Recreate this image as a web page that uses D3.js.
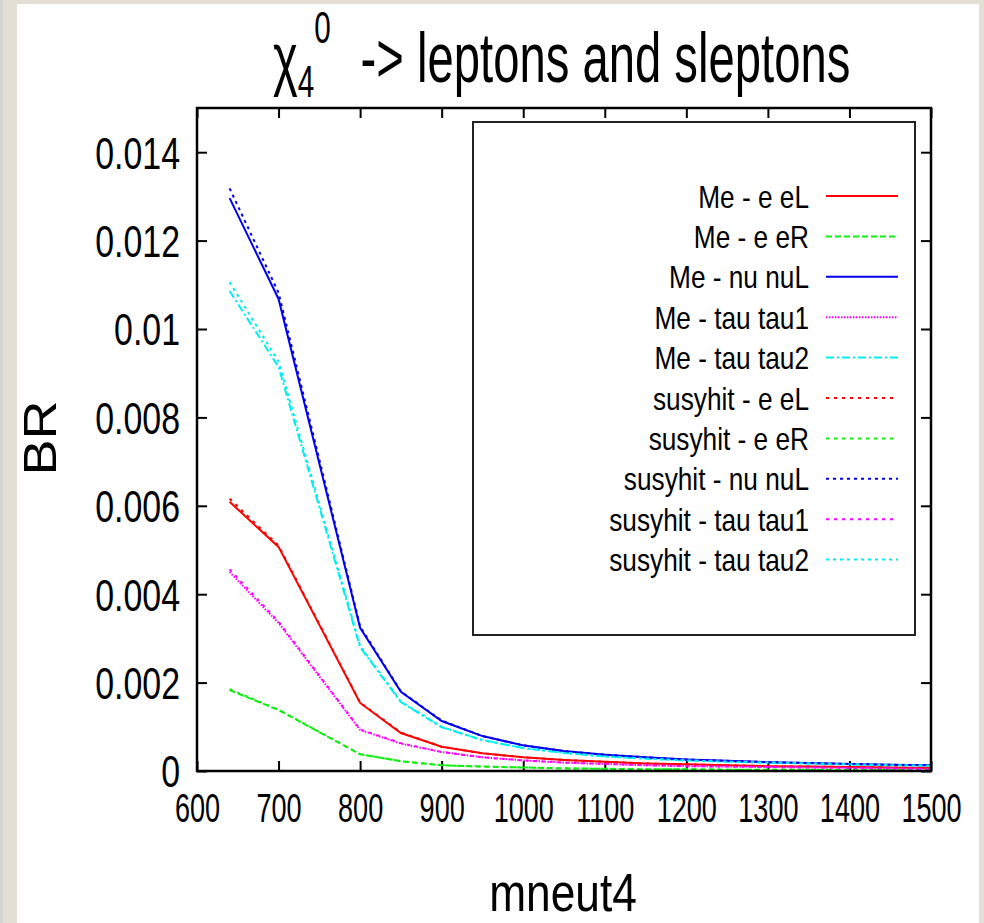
<!DOCTYPE html>
<html>
<head>
<meta charset="utf-8">
<script src="https://cdnjs.cloudflare.com/ajax/libs/d3/7.8.5/d3.min.js"></script>
<style>
  body { margin: 0; background: #e4dfd5; }
  svg { display: block; }
  text { font-family: "Liberation Sans", Arial, sans-serif; fill: #000; }
</style>
</head>
<body>
<svg id="chart" width="984" height="923"></svg>
<script>
// x values (mneut4)
const mneut4 = [640, 700, 800, 850, 900, 950, 1000, 1050, 1100, 1150, 1200, 1250, 1300, 1350, 1400, 1450, 1500];

// branching ratios
const meEeL    = [0.00609, 0.00507, 0.00154, 0.00086, 0.00055, 0.00040, 0.00031, 0.00025, 0.00021, 0.00017, 0.00015, 0.00013, 0.00011, 0.00010, 0.00009, 0.00008, 0.00007];
const meEeR    = [0.00183, 0.00138, 0.00038, 0.00022, 0.00013, 0.00010, 0.00008, 0.00006, 0.00005, 0.00004, 0.00004, 0.00003, 0.00003, 0.00003, 0.00002, 0.00002, 0.00002];
const meNuNuL  = [0.01296, 0.01068, 0.00324, 0.00179, 0.00113, 0.00079, 0.00058, 0.00045, 0.00037, 0.00031, 0.00026, 0.00023, 0.00020, 0.00018, 0.00016, 0.00014, 0.00013];
const meTau1   = [0.00450, 0.00335, 0.00093, 0.00062, 0.00043, 0.00031, 0.00024, 0.00019, 0.00016, 0.00013, 0.00011, 0.00010, 0.00009, 0.00008, 0.00007, 0.00006, 0.00005];
const meTau2   = [0.01086, 0.00914, 0.00280, 0.00156, 0.00099, 0.00070, 0.00052, 0.00041, 0.00033, 0.00028, 0.00024, 0.00021, 0.00019, 0.00017, 0.00015, 0.00013, 0.00012];
const shEeL    = [0.00616, 0.00510, 0.00155, 0.00087, 0.00055, 0.00040, 0.00031, 0.00025, 0.00021, 0.00017, 0.00015, 0.00013, 0.00011, 0.00010, 0.00009, 0.00008, 0.00007];
const shEeR    = [0.00185, 0.00139, 0.00038, 0.00022, 0.00013, 0.00010, 0.00008, 0.00006, 0.00005, 0.00004, 0.00004, 0.00003, 0.00003, 0.00003, 0.00002, 0.00002, 0.00002];
const shNuNuL  = [0.01318, 0.01082, 0.00327, 0.00180, 0.00114, 0.00079, 0.00058, 0.00045, 0.00037, 0.00031, 0.00026, 0.00023, 0.00020, 0.00018, 0.00016, 0.00014, 0.00013];
const shTau1   = [0.00456, 0.00338, 0.00094, 0.00063, 0.00043, 0.00031, 0.00024, 0.00019, 0.00016, 0.00013, 0.00011, 0.00010, 0.00009, 0.00008, 0.00007, 0.00006, 0.00005];
const shTau2   = [0.01106, 0.00926, 0.00283, 0.00157, 0.00100, 0.00070, 0.00052, 0.00041, 0.00033, 0.00028, 0.00024, 0.00021, 0.00019, 0.00017, 0.00015, 0.00013, 0.00012];

const seriesNames = ["Me - e eL", "Me - e eR", "Me - nu nuL", "Me - tau tau1", "Me - tau tau2",
                     "susyhit - e eL", "susyhit - e eR", "susyhit - nu nuL", "susyhit - tau tau1", "susyhit - tau tau2"];
const seriesValues = [meEeL, meEeR, meNuNuL, meTau1, meTau2, shEeL, shEeR, shNuNuL, shTau1, shTau2];
const seriesColors = ["#ff0000", "#11ee11", "#0000ee", "#ff00ff", "#00eeee",
                      "#ff0000", "#11ee11", "#0000ee", "#ff00ff", "#00eeee"];
const seriesDash = [null, "6,3", null, "1.5,1.5", "8,3,2,3",
                    "3,5", "3,5", "3,4", "3,5", "3,4"];

const xTicks = [600, 700, 800, 900, 1000, 1100, 1200, 1300, 1400, 1500];
const yTicks = [0, 0.002, 0.004, 0.006, 0.008, 0.01, 0.012, 0.014];
const yTickLabels = ["0", "0.002", "0.004", "0.006", "0.008", "0.01", "0.012", "0.014"];

const svg = d3.select("#chart");
const W = 984, H = 923;

// page background: grey strip, beige frame, white sheet
svg.append("rect").attr("width", W).attr("height", H).attr("fill", "#e4dfd5");
svg.append("rect").attr("width", 3).attr("height", H).attr("fill", "#d6d6d6");
svg.append("rect").attr("x", 17).attr("y", 4).attr("width", 962).attr("height", H - 4).attr("fill", "#fff");

const plotL = 197, plotR = 931, plotT = 108, plotB = 771;
const x = d3.scaleLinear().domain([600, 1500]).range([plotL, plotR]);
const y = d3.scaleLinear().domain([0, 0.015]).range([plotB, plotT]);

// ticks, mirrored on all four sides, pointing inward
function styleTicks(g) {
  g.select(".domain").remove();
  g.selectAll(".tick line").attr("stroke", "#000").attr("stroke-width", 2);
}
const gx = svg.append("g").attr("transform", `translate(0,${plotB})`)
  .call(d3.axisBottom(x).tickValues(xTicks).tickSize(-10).tickFormat(d3.format("d")))
  .call(styleTicks);
gx.selectAll(".tick text")
  .attr("y", 51).attr("dy", null)
  .attr("font-size", 41)
  .attr("transform", "scale(0.66,1)");

svg.append("g").attr("transform", `translate(0,${plotT})`)
  .call(d3.axisTop(x).tickValues(xTicks).tickSize(-10).tickFormat(""))
  .call(styleTicks);

const gy = svg.append("g").attr("transform", `translate(${plotL},0)`)
  .call(d3.axisLeft(y).tickValues(yTicks).tickSize(-10).tickFormat((d, i) => yTickLabels[i]))
  .call(styleTicks);
gy.selectAll(".tick text")
  .attr("x", 0).attr("dy", "0.36em")
  .attr("font-size", 44)
  .attr("transform", "translate(-17,0) scale(0.77,1)");

svg.append("g").attr("transform", `translate(${plotR},0)`)
  .call(d3.axisRight(y).tickValues(yTicks).tickSize(-10).tickFormat(""))
  .call(styleTicks);

// curves
const line = d3.line().x((d, i) => x(mneut4[i])).y(d => y(d));
svg.append("g").selectAll("path")
  .data(seriesValues)
  .join("path")
  .attr("fill", "none")
  .attr("stroke", (d, i) => seriesColors[i])
  .attr("stroke-width", 2)
  .attr("stroke-dasharray", (d, i) => seriesDash[i])
  .attr("d", line);

// frame
svg.append("rect")
  .attr("x", plotL).attr("y", plotT)
  .attr("width", plotR - plotL).attr("height", plotB - plotT)
  .attr("fill", "none").attr("stroke", "#000").attr("stroke-width", 2.5);

// legend
const legend = svg.append("g");
legend.append("rect")
  .attr("x", 473).attr("y", 122).attr("width", 442).attr("height", 513)
  .attr("fill", "#fff").attr("stroke", "#222").attr("stroke-width", 2);
const rows = legend.selectAll("g.row")
  .data(seriesNames)
  .join("g")
  .attr("class", "row")
  .attr("transform", (d, i) => `translate(0,${196 + i * 40.4})`);
rows.append("text")
  .attr("transform", "translate(809,0) scale(0.82,1)")
  .attr("text-anchor", "end")
  .attr("dy", "0.36em")
  .attr("font-size", 32)
  .text(d => d);
rows.append("line")
  .attr("x1", 826).attr("x2", 898)
  .attr("stroke", (d, i) => seriesColors[i])
  .attr("stroke-width", 2)
  .attr("stroke-dasharray", (d, i) => seriesDash[i]);

// title with sub- and superscript
const title = svg.append("text")
  .attr("transform", "translate(273,82) scale(0.675,1)")
  .attr("font-size", 70);
title.append("tspan").text("χ");
title.append("tspan").attr("font-size", 44).attr("dy", 15).text("4");
title.append("tspan").attr("font-size", 44).attr("dy", -54).text("0");
title.append("tspan").attr("dy", 39).attr("dx", 44).text("-> leptons and sleptons");

// axis labels
svg.append("text")
  .attr("transform", "translate(563,911) scale(0.82,1)")
  .attr("text-anchor", "middle")
  .attr("font-size", 54)
  .text("mneut4");
svg.append("text")
  .attr("transform", "translate(56,438) scale(0.85,1) rotate(-90)")
  .attr("text-anchor", "middle")
  .attr("font-size", 54)
  .text("BR");
</script>
</body>
</html>
